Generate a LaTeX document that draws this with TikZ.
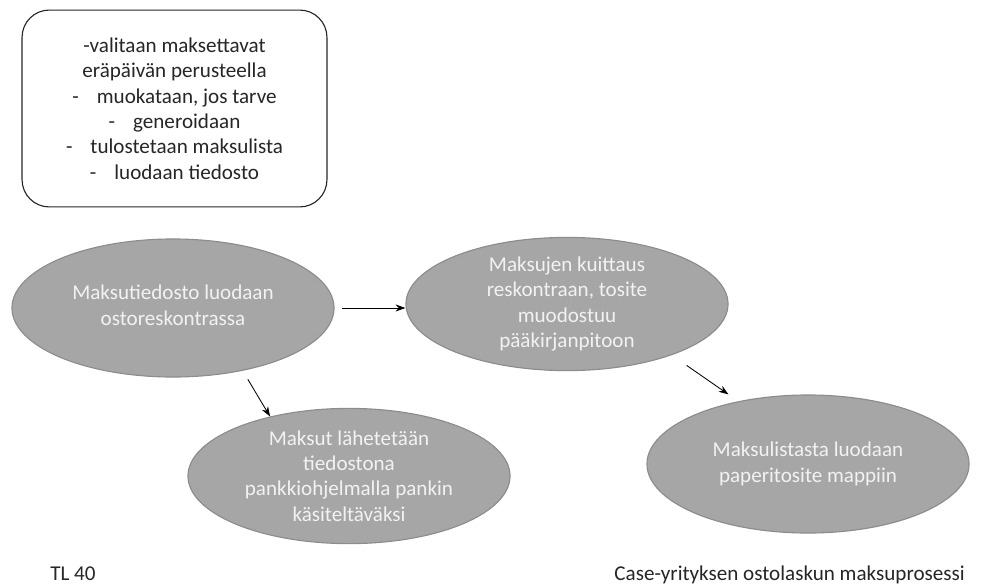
\documentclass[tikz,border=0pt]{standalone}
\usepackage{fontspec}
\setmainfont{Carlito}
\usepackage{tikz}
\usetikzlibrary{arrows.meta, shapes.geometric, positioning, calc}
\usepackage{xcolor}
\definecolor{ovalfill}{HTML}{A6A6A6}
\definecolor{ovaledge}{HTML}{8C8C8C}
\definecolor{ovaltext}{HTML}{F2F2F2}
\definecolor{inktext}{HTML}{262626}

\begin{document}
\begin{tikzpicture}[
    x=0.025cm, y=-0.025cm,
    every node/.style={font=\fontsize{15}{18}\selectfont},
    phase/.style={ellipse, draw=ovaledge, line width=0.8pt, fill=ovalfill, text=ovaltext, inner sep=0pt, minimum width=8.05cm, minimum height=3.45cm, align=center},
    notebox/.style={rectangle, rounded corners=0.68cm, draw=inktext, line width=0.8pt, text=inktext, minimum width=7.62cm, minimum height=4.92cm, align=center},
    caption/.style={text=inktext, inner sep=0pt},
    arrow/.style={-{Stealth[length=7pt, width=5pt]}, line width=0.6pt, black}
]
\useasboundingbox (0,0) rectangle (997,585);

% Muistilista
\node[notebox] (note) at (174.5,108.5) {-valitaan maksettavat\\eräpäivän perusteella\\-\hspace{0.45cm}muokataan, jos tarve\\-\hspace{0.45cm}generoidaan\\-\hspace{0.45cm}tulostetaan maksulista\\-\hspace{0.45cm}luodaan tiedosto};

% Vaiheet
\node[phase] (file) at (173,308) {Maksutiedosto luodaan\\ostoreskontrassa\\[-14pt]};
\node[phase, minimum height=3.3cm] (ack) at (567,304) {Maksujen kuittaus\\reskontraan, tosite\\muodostuu\\pääkirjanpitoon};
\node[phase, minimum height=3.38cm] (send) at (349,476) {Maksut lähetetään\\tiedostona\\pankkiohjelmalla pankin\\käsiteltäväksi};
\node[phase] (paper) at (808,464) {Maksulistasta luodaan\\paperitosite mappiin};

% Nuolet
\draw[arrow, shorten <=0.18cm] (file.east) -- (file.east -| ack.west);
\draw[arrow, shorten <=0.25cm] (file.-42) -- (send.143);
\draw[arrow, shorten <=0.45cm, shorten >=0.3cm] (ack.-26) -- (paper.138);

% Alatunniste
\node[caption, anchor=base west] (tl) at (50,580) {TL 40};
\node[caption, anchor=base east] (title) at (965,580) {Case-yrityksen ostolaskun maksuprosessi};
\end{tikzpicture}
\end{document}
